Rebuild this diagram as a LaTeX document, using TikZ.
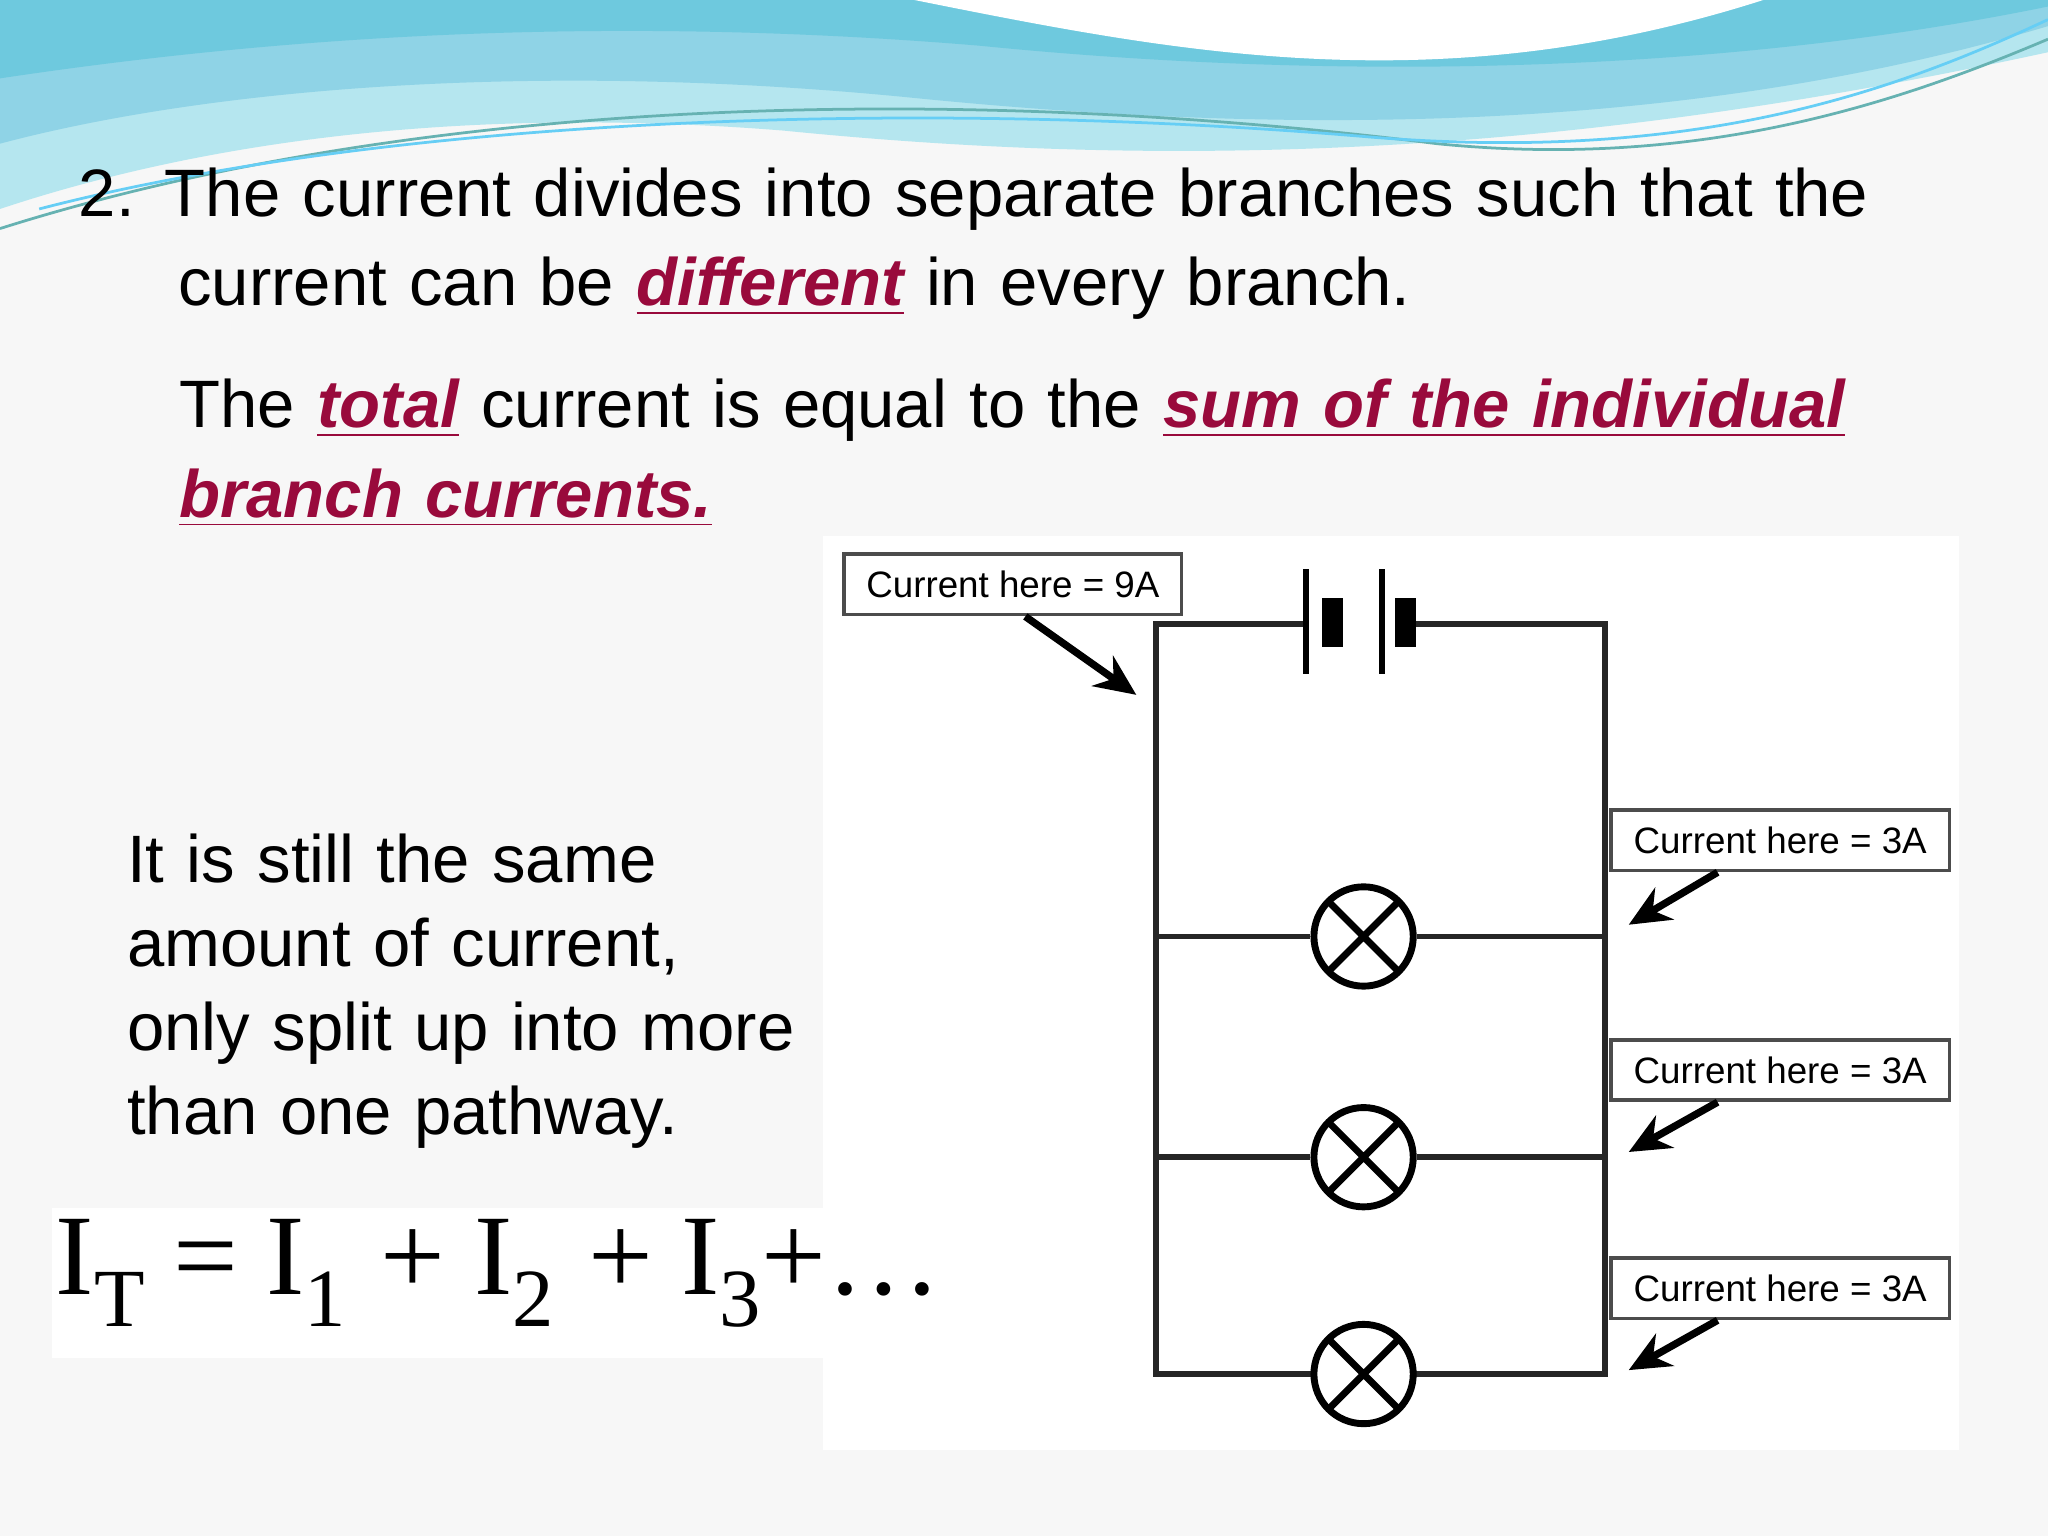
\documentclass[tikz,border=0pt]{standalone}
\usepackage{fontspec}
\usetikzlibrary{arrows.meta}
\setmainfont{Liberation Sans}
\newfontfamily\eqfont{Liberation Serif}
\definecolor{hl}{HTML}{990A3C}
\definecolor{bg}{HTML}{F7F7F7}
\definecolor{wa}{HTML}{8FD3E6}
\definecolor{wb}{HTML}{6EC9DE}
\definecolor{wc}{HTML}{B5E6EF}
\newcommand{\hlt}[1]{\textcolor{hl}{\bfseries\itshape\underline{#1}}}
\newcommand{\sbs}[1]{\raisebox{-0.6ex}{\fontsize{18pt}{18pt}\selectfont #1}}
\begin{document}
\begin{tikzpicture}[x=0.01cm,y=-0.01cm,
  wire/.style={line width=1.3pt,black!85},
  lbl/.style={draw=black!70,line width=0.8pt,fill=white,font=\fontsize{8pt}{10pt}\selectfont,minimum height=0.46cm,inner xsep=4pt},
  arr/.style={line width=1.6pt,-{Stealth[length=9pt,width=8pt]}},
  lamp/.style={circle,draw,line width=1.5pt,minimum size=0.76cm,fill=white,path picture={\draw[line width=1.5pt] (path picture bounding box.south west)--(path picture bounding box.north east) (path picture bounding box.north west)--(path picture bounding box.south east);}}]
\useasboundingbox (0,0) rectangle (1568,1176);
\fill[bg] (0,0) rectangle (1568,1176);
% top waves
\fill[wc] (0,0) -- (1568,0) -- (1568,40) .. controls (1200,120) and (900,130) .. (600,100) .. controls (350,80) and (150,110) .. (0,160) -- cycle;
\fill[wa] (0,0) -- (1568,0) -- (1568,20) .. controls (1300,100) and (1000,105) .. (700,75) .. controls (400,45) and (150,70) .. (0,110) -- cycle;
\fill[wb] (0,0) -- (1568,0) -- (1568,5) .. controls (1300,60) and (1000,60) .. (750,35) .. controls (450,10) and (200,30) .. (0,60) -- cycle;
\fill[white] (700,0) .. controls (900,40) and (1100,80) .. (1350,0) -- cycle;
\draw[teal!60,line width=0.6pt] (0,175) .. controls (300,80) and (700,60) .. (1100,110) .. controls (1300,130) and (1450,80) .. (1568,30);
\draw[cyan!60,line width=0.6pt] (30,160) .. controls (300,90) and (700,75) .. (1050,105) .. controls (1300,125) and (1450,70) .. (1568,15);
% backgrounds of pictures
\fill[white] (630,410) rectangle (1500,1110);
\fill[white] (40,925) rectangle (710,1040);
% text
\node[anchor=north west,align=left,font=\fontsize{14.6pt}{19.5pt}\selectfont,text width=15cm] (t1) at (48,116)
 {2.\hspace{0.45em}The current divides into separate branches such that the\\
 \hspace{0.76cm}current can be \hlt{different} in every branch.};
\node[anchor=north west,align=left,font=\fontsize{14.6pt}{19.5pt}\selectfont,text width=14cm] (t2) at (125,278)
 {The \hlt{total} current is equal to the \hlt{sum of the individual}\\ \hlt{branch currents.}};
\node[anchor=north west,align=left,font=\fontsize{14.6pt}{18.3pt}\selectfont,text width=6cm] (t3) at (85,626)
 {It is still the same\\amount of current,\\only split up into more\\than one pathway.};
\node[anchor=west,font=\eqfont\fontsize{25pt}{30pt}\selectfont,inner sep=0pt] (eq) at (42,975)
 {I\sbs{T}\hspace{0.25em}=\hspace{0.25em}I\sbs{1}\hspace{0.3em}+\hspace{0.25em}I\sbs{2}\hspace{0.3em}+\hspace{0.25em}I\sbs{3}+\ldots};
% circuit
\coordinate (tl) at (885,478); \coordinate (tr) at (1229,478);
\coordinate (bl) at (885,1052); \coordinate (br) at (1229,1052);
\draw[wire] (1075,478) -- (tr) -- (br) -- (bl) -- (tl) -- (1000,478);
\draw[line width=1.2pt] (1000,436) -- (1000,516) (1058,436) -- (1058,516);
\draw[line width=4.5pt] (1020,458) -- (1020,495) (1076,458) -- (1076,495);
\node[lamp] (L1) at (1044,717) {};
\node[lamp] (L2) at (1044,886) {};
\node[lamp] (L3) at (1044,1052) {};
\draw[wire] (885,717) -- (L1) -- (1229,717);
\draw[wire] (885,886) -- (L2) -- (1229,886);
\draw[wire] (L3.west) -- (885,1052);
\draw[wire] (L3.east) -- (1229,1052);
\node[lbl,anchor=north west,minimum width=2.58cm] (b0) at (645,423) {Current here = 9A};
\node[lbl,anchor=north west,minimum width=2.59cm] (b1) at (1232,619) {Current here = 3A};
\node[lbl,anchor=north west,minimum width=2.59cm] (b2) at (1232,795) {Current here = 3A};
\node[lbl,anchor=north west,minimum width=2.59cm] (b3) at (1232,962) {Current here = 3A};
\coordinate (a0) at (870,532);
\coordinate (a1) at (1247,708); \coordinate (a2) at (1247,882); \coordinate (a3) at (1247,1049);
\draw[arr] (785,472) -- (a0);
\draw[arr] ([xshift=0.83cm]b1.south west) -- (a1);
\draw[arr] ([xshift=0.83cm]b2.south west) -- (a2);
\draw[arr] ([xshift=0.83cm]b3.south west) -- (a3);
\end{tikzpicture}
\end{document}
